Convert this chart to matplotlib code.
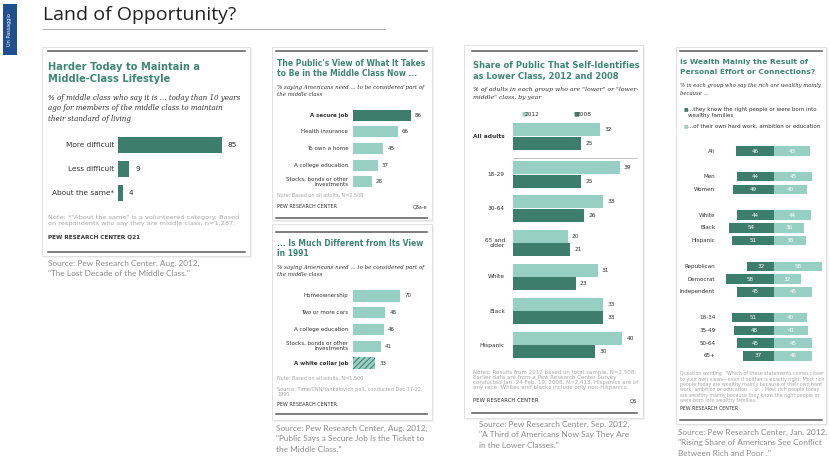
import matplotlib
matplotlib.use("Agg")
import matplotlib.pyplot as plt
from matplotlib.patches import Rectangle
import numpy as np

# chart data
hard_labels = ["More difficult", "Less difficult", "About the same*"]
hard_values = [85, 9, 4]

now_labels = ["A secure job", "Health insurance", "To own a home", "A college education",
              "Stocks, bonds or other\ninvestments"]
now_values = [86, 66, 45, 37, 28]

old_labels = ["Homeownership", "Two or more cars", "A college education",
              "Stocks, bonds or other\ninvestments", "A white collar job"]
old_values = [70, 48, 46, 41, 33]

lower_groups = ["All adults", "18-29", "30-64", "65 and\nolder", "White", "Black", "Hispanic"]
lower_2012 = [32, 39, 33, 20, 31, 33, 40]
lower_2008 = [25, 25, 26, 21, 23, 33, 30]

wealth_groups = ["All", "Men", "Women", "White", "Black", "Hispanic", "Republican", "Democrat",
                 "Independent", "18-34", "35-49", "50-64", "65+"]
wealth_block = [0, 1, 1, 2, 2, 2, 3, 3, 3, 4, 4, 4, 4]
wealth_connections = [46, 44, 49, 44, 54, 51, 32, 58, 45, 51, 48, 45, 37]
wealth_hardwork = [43, 45, 40, 44, 36, 38, 58, 32, 45, 40, 41, 45, 46]

DARK = "#3d7d6c"
LIGHT = "#97d0c3"
TEAL = "#3f8573"
INK = "#333333"
NOTE = "#a8a8a8"
SRC = "#8c8c8c"
SERIF = dict(family="DejaVu Serif", style="italic")
W, H = 830, 463

plt.rcParams["hatch.linewidth"] = 0.7
fig = plt.figure(figsize=(8.3, 4.63), dpi=100)
fig.patch.set_facecolor("white")
renderer = fig.canvas.get_renderer()

# overlay in pixel coordinates for text, boxes and rules
ov = fig.add_axes([0, 0, 1, 1])
ov.set_xlim(0, W)
ov.set_ylim(H, 0)
ov.axis("off")


def size_for(s, width, **kw):
    # font size that makes s about `width` pixels wide
    tmp = ov.text(0, 0, s, fontsize=10, **kw)
    w = tmp.get_window_extent(renderer).width
    tmp.remove()
    return 10 * width / w


def t(x, y, s, size=4, color=INK, **kw):
    kw.setdefault("va", "center")
    ov.text(x, y, s, fontsize=size, color=color, **kw)


def lines(x, y, rows, step, width, color=INK, fit=0, **kw):
    size = size_for(rows[fit], width, **kw)
    for i, row in enumerate(rows):
        t(x, y + i * step, row, size=size, color=color, **kw)


def box(x0, y0, x1, y1, top, bottom, lx0, lx1):
    ov.add_patch(Rectangle((x0 + 1.5, y0 + 1.5), x1 - x0, y1 - y0, fc="#f0f0f0", ec="none"))
    ov.add_patch(Rectangle((x0, y0), x1 - x0, y1 - y0, fc="white", ec="#dddddd", lw=0.6))
    ov.plot([lx0, lx1], [top, top], color="#5a5a5a", lw=1.1)
    ov.plot([lx0, lx1], [bottom, bottom], color="#5a5a5a", lw=1.1)


def chart_axes(x0, x1, y0, y1):
    ax = fig.add_axes([x0 / W, 1 - y1 / H, (x1 - x0) / W, (y1 - y0) / H])
    ax.axis("off")
    ax.patch.set_alpha(0)
    return ax


def source(x, y, rows, width):
    lines(x, y, rows, 10.5, width, color=SRC, family="Lato")


# header
ov.add_patch(Rectangle((3, 4), 14, 51, fc="#1f4f8f", ec="none"))
t(10, 29.5, "Un Passaggio", size=3.6, color="white", rotation=90, ha="center")
lines(43, 15, ["Land of Opportunity?"], 0, 193, color="#222222", family="Open Sans")
ov.plot([43, 385], [29, 29], color="#9a9a9a", lw=0.6)

# panel 1
box(42, 47, 250, 256, 51, 252, 48, 245)
lines(48, 67, ["Harder Today to Maintain a", "Middle-Class Lifestyle"], 12.5, 152,
      color=TEAL, weight="bold")
lines(48, 98, ["% of middle class who say it is ... today than 10 years",
               "ago for members of the middle class to maintain",
               "their standard of living"], 10.4, 192, **SERIF)
fs = size_for("About the same*", 62)
ax1 = chart_axes(118, 240, 133, 205)
ax1.set_xlim(0, 100)
ax1.set_ylim(2.5, -0.5)
ax1.barh(range(3), hard_values, height=0.67, color=DARK)
for i, (lab, v) in enumerate(zip(hard_labels, hard_values)):
    ax1.text(-3, i, lab, ha="right", va="center", fontsize=fs, color=INK)
    ax1.text(v + 5, i, str(v), ha="left", va="center", fontsize=fs, color=INK)
lines(48, 217, ["Note: *\"About the same\" is a volunteered category. Based",
                "on respondents who say they are middle class, n=1,287."], 7, 188, color=NOTE)
lines(48, 237, ["PEW RESEARCH CENTER Q21"], 0, 94, weight="bold")
source(48, 263, ["Source: Pew Research Center, Aug. 2012,",
                 "\"The Lost Decade of the Middle Class.\""], 151)

# panel 2a
box(272, 47, 432, 220, 51, 218, 276, 427)
lines(277, 63, ["The Public's View of What It Takes", "to Be in the Middle Class Now ..."],
      10, 147, color=TEAL, weight="bold")
lines(277, 87, ["% saying Americans need ... to be considered part of", "the middle class"],
      8, 146, **SERIF)
fs = size_for("A college education", 54)
ax2 = chart_axes(353, 420.5, 106.7, 190)
ax2.set_xlim(0, 100)
ax2.set_ylim(4.5, -0.5)
ax2.barh(range(5), now_values, height=0.66, color=[DARK] + [LIGHT] * 4)
for i, (lab, v) in enumerate(zip(now_labels, now_values)):
    ax2.text(-7, i, lab, ha="right", va="center", fontsize=fs, color=INK,
             weight="bold" if i == 0 else "normal", linespacing=1.0)
    ax2.text(v + 6, i, str(v), ha="left", va="center", fontsize=fs, color=INK)
lines(277, 195, ["Note: Based on all adults, N=2,508"], 0, 86, color=NOTE)
fs_p = size_for("PEW RESEARCH CENTER", 59)
t(277, 207, "PEW RESEARCH CENTER", size=fs_p)
t(427, 207, "Q8a-e", size=fs_p, ha="right")

# panel 2b
box(272, 224, 432, 420, 232, 414, 276, 427)
lines(277, 244, ["... Is Much Different from Its View", "in 1991"], 10, 146,
      color=TEAL, weight="bold")
lines(277, 267, ["% saying Americans need ... to be considered part of", "the middle class"],
      8, 146, **SERIF)
ax3 = chart_axes(353, 420.5, 287.6, 371.4)
ax3.set_xlim(0, 100)
ax3.set_ylim(4.5, -0.5)
bars = ax3.barh(range(5), old_values, height=0.66, color=LIGHT)
bars[-1].set_hatch("//////")
bars[-1].set_edgecolor(DARK)
bars[-1].set_linewidth(0)
for i, (lab, v) in enumerate(zip(old_labels, old_values)):
    ax3.text(-7, i, lab, ha="right", va="center", fontsize=fs, color=INK,
             weight="bold" if i == 4 else "normal", linespacing=1.0)
    ax3.text(v + 6, i, str(v), ha="left", va="center", fontsize=fs, color=INK)
lines(277, 378, ["Note: Based on all adults, N=1,500"], 0, 86, color=NOTE)
lines(277, 389, ["Source: Time/CNN/Yankelovich poll, conducted Dec 17-22,", "1991"], 5, 144,
      color=NOTE)
t(277, 404, "PEW RESEARCH CENTER", size=fs_p)
source(276, 428, ["Source: Pew Research Center, Aug. 2012,",
                  "\"Public Says a Secure Job Is the Ticket to",
                  "the Middle Class.\""], 150)

# panel 3
box(464, 45, 643, 418, 51, 413, 472, 637)
lines(473, 66, ["Share of Public That Self-Identifies", "as Lower Class, 2012 and 2008"], 10.5,
      164, color=TEAL, weight="bold")
lines(473, 89, ["% of adults in each group who are \"lower\" or \"lower-",
                "middle\" class, by year"], 8, 163, **SERIF)
fs = size_for("Hispanic", 25)
t(521, 114, "\u25a0", size=fs, color=LIGHT)
t(525, 114, "2012", size=fs)
t(573, 114, "\u25a0", size=fs, color=DARK)
t(577, 114, "2008", size=fs)
ypos = np.arange(len(lower_groups)) + 0.12 * (np.arange(len(lower_groups)) > 0)
ax4 = chart_axes(513, 636, 116, 365.6)
ax4.set_xlim(0, 45)
ax4.set_ylim(ypos[-1] + 0.6, -0.6)
ax4.barh(ypos - 0.2, lower_2012, height=0.38, color=LIGHT)
ax4.barh(ypos + 0.2, lower_2008, height=0.38, color=DARK)
ax4.plot([0, 45.5], [0.62, 0.62], color="#bbbbbb", lw=0.6, clip_on=False)
for i, lab in enumerate(lower_groups):
    ax4.text(-3, ypos[i], lab, ha="right", va="center", fontsize=fs, color=INK,
             weight="bold" if i == 0 else "normal", linespacing=1.1)
    ax4.text(lower_2012[i] + 1.5, ypos[i] - 0.2, str(lower_2012[i]), va="center",
             fontsize=fs, color=INK)
    ax4.text(lower_2008[i] + 1.5, ypos[i] + 0.2, str(lower_2008[i]), va="center",
             fontsize=fs, color=INK)
lines(473, 372.7, ["Notes: Results from 2012 based on total sample, N=2,508.",
                   "Earlier data are from a Pew Research Center Survey",
                   "conducted Jan. 24-Feb. 19, 2008, N=2,413. Hispanics are of",
                   "any race. Whites and blacks include only non-Hispanics."],
      5, 163, color=NOTE, fit=2)
fs_p = size_for("PEW RESEARCH CENTER", 66)
t(473, 401, "PEW RESEARCH CENTER", size=fs_p)
t(637, 401, "Q5", size=fs_p, ha="right")
source(479, 424, ["Source: Pew Research Center, Sep. 2012,",
                  "\"A Third of Americans Now Say They Are",
                  "in the Lower Classes.\""], 149)

# panel 4
box(676, 47, 826, 424, 51, 420, 680, 822)
lines(680, 62, ["Is Wealth Mainly the Result of", "Personal Effort or Connections?"], 10, 127,
      color=TEAL, weight="bold")
lines(680, 86, ["% in each group who say the rich are wealthy mainly", "because ..."], 7.5, 141,
      **SERIF)
fs = size_for("...they know the right people or were born into", 128)
t(684, 109, "\u25a0", size=fs * 0.9, color=DARK)
t(688, 109, "...they know the right people or were born into", size=fs)
t(688, 116, "wealthy families", size=fs)
t(684, 126, "\u25a0", size=fs * 0.9, color=LIGHT)
t(688, 126, "...of their own hard work, ambition or education", size=fs)
fs = size_for("Independent", 36)
wpos = np.arange(len(wealth_groups)) + np.array(wealth_block)
ax5 = chart_axes(724, 824, 144.6, 362.4)
ax5.set_xlim(-60, 60)
ax5.set_ylim(wpos[-1] + 0.5, -0.5)
ax5.barh(wpos, [-v for v in wealth_connections], height=0.74, color=DARK)
ax5.barh(wpos, wealth_hardwork, height=0.74, color=LIGHT)
for i, lab in enumerate(wealth_groups):
    ax5.text(-70.5, wpos[i], lab, ha="right", va="center", fontsize=fs, color=INK)
    ax5.text(-wealth_connections[i] / 2, wpos[i], str(wealth_connections[i]), ha="center",
             va="center", fontsize=fs, color="white")
    ax5.text(wealth_hardwork[i] / 2, wpos[i], str(wealth_hardwork[i]), ha="center",
             va="center", fontsize=fs, color="white")
lines(680, 374, ["Question wording: \"Which of these statements comes closer",
                 "to your own views\u2014even if neither is exactly right: Most rich",
                 "people today are wealthy mainly because of their own hard",
                 "work, ambition or education ... or... Most rich people today",
                 "are wealthy mainly because they know the right people or",
                 "were born into wealthy families.\""], 5.3, 143, color=NOTE, fit=1)
t(680, 409, "PEW RESEARCH CENTER", size=size_for("PEW RESEARCH CENTER", 58))
source(678, 432, ["Source: Pew Research Center, Jan. 2012,",
                  "\"Rising Share of Americans See Conflict",
                  "Between Rich and Poor .\""], 148)

fig.savefig("out.png", dpi=100, facecolor="white")
